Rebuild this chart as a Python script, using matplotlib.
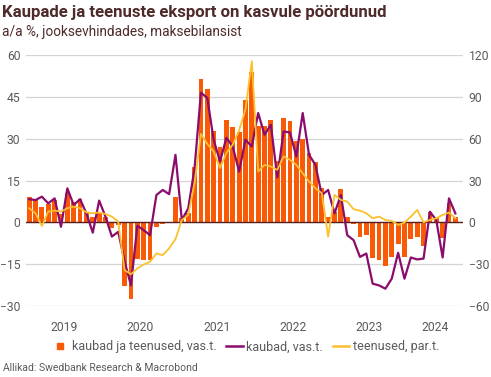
import matplotlib
matplotlib.use("Agg")
import matplotlib.pyplot as plt
from matplotlib.lines import Line2D
import numpy as np

# monthly data, Jan 2019 .. Aug 2024
kaubad_teenused = [
    9.0, 8.0, 5.4, 6.5, 8.0, 3.0, 10.4, 7.4, 8.3, 3.8, 2.0, 3.2,        # 2019
    2.0, -1.9, -1.0, -23.0, -27.4, -13.2, -13.4, -13.4, -1.6, -0.7, -0.3, 9.2,  # 2020
    1.5, 3.2, 20.0, 51.3, 47.7, 32.7, 27.0, 36.8, 34.2, 32.4, 43.7, 54.0,  # 2021
    34.5, 34.5, 36.6, 22.0, 37.3, 36.4, 29.2, 30.0, 25.0, 21.5, 12.2, 2.0,  # 2022
    3.8, 11.9, 1.8, -0.7, -5.2, -4.5, -12.8, -13.6, -15.6, -12.4, -7.7, -12.6,  # 2023
    -6.0, -5.4, -8.4, 3.8, 1.7, -5.6, 7.0, 2.0,  # 2024
]
kaubad = [
    8.3, 8.0, 9.2, 6.8, 8.6, -1.6, 12.2, 6.2, 8.3, 3.2, -3.7, 7.8,
    2.0, -5.1, -3.4, -14.0, -22.6, -1.2, -2.8, -4.6, 9.8, 11.6, 10.1, 24.2,
    0.8, 5.0, 19.4, 46.5, 44.6, 29.6, 21.8, 30.3, 27.2, 18.2, 29.6, 27.2,
    39.2, 31.4, 35.0, 16.1, 32.6, 32.2, 23.6, 39.2, 24.2, 20.6, 9.8, 11.6,
    3.2, 9.8, -4.6, -6.4, -12.4, -11.2, -22.0, -22.6, -23.8, -20.2, -10.9, -20.2,
    -12.6, -13.3, -13.0, 3.8, 0.8, -12.6, 8.6, 3.2,
]
teenused = [
    10.1, 6.5, -2.6, 7.7, 8.4, 7.7, 10.1, 11.3, 10.1, 7.2, 6.5, 7.0,
    6.0, 4.1, 0.5, -34.3, -37.2, -33.1, -30.2, -28.3, -22.3, -23.5, -18.7, -12.0,
    1.7, 5.3, 28.1, 63.4, 56.2, 50.9, 38.9, 49.7, 55.7, 65.8, 80.9, 115.5,
    36.4, 41.2, 40.0, 37.6, 47.2, 44.8, 41.2, 35.2, 29.2, 24.4, 20.9, -10.3,
    19.7, 16.1, 14.9, 9.4, 8.4, 6.5, 2.9, 4.1, 1.7, 1.0, -1.9, -0.2,
    4.1, 8.9, 0.0, 1.7, 2.9, 5.3, 7.0, 2.9,
]
years = ["2019", "2020", "2021", "2022", "2023", "2024"]
left_ticks = [-30, -15, 0, 15, 30, 45, 60]
right_ticks = [-60, -30, 0, 30, 60, 90, 120]

ORANGE = "#f85a06"
PURPLE = "#8a0c6c"
YELLOW = "#fbc02d"
BROWN = "#4e2a2a"
GREY = "#5a5a5a"

plt.rcParams['font.family'] = ['Roboto', 'DejaVu Sans']

x = np.arange(len(kaubad_teenused))
xmin, xmax = -0.5, 68.2

fig = plt.figure(figsize=(4.91, 3.77), dpi=100)
ax = fig.add_axes([26 / 491, 1 - 306 / 377, (463 - 26) / 491, (306 - 55) / 377])
ax2 = ax.twinx()

ax.bar(x, kaubad_teenused, width=0.76, color=ORANGE, zorder=2)
ax.plot(x, kaubad, color=PURPLE, lw=1.6, zorder=3)
ax2.plot(x, teenused, color=YELLOW, lw=1.3, zorder=4)

ax.set_xlim(xmin, xmax)
ax.set_ylim(-30, 60)
ax2.set_ylim(-60, 120)
ax.set_yticks(left_ticks)
ax2.set_yticks(right_ticks)
ax.grid(axis="y", color="#d4d4d4", lw=0.9, zorder=0)
ax.axhline(0, color="#5a1e1e", lw=1.0, zorder=2.5)

# year labels centred in the visible part of each year
pos = []
for i in range(len(years)):
    a = max(i * 12 - 0.5, xmin)
    b = min(i * 12 + 11.5, xmax)
    pos.append((a + b) / 2)
ax.set_xticks(pos)
ax.set_xticklabels(years)

for a in (ax, ax2):
    for s in a.spines.values():
        s.set_visible(False)
    a.tick_params(length=0, labelsize=8.7, colors=GREY)
ax.tick_params(axis="x", pad=11)
ax.tick_params(axis="y", pad=4)
ax2.tick_params(axis="y", pad=4)

fig.text(0.004, 0.968, "Kaupade ja teenuste eksport on kasvule pöördunud",
         fontsize=12.1, fontweight="bold", color=BROWN, va="center", ha="left")
fig.text(0.004, 0.915, "a/a %, jooksevhindades, maksebilansist",
         fontsize=9.8, color=BROWN, va="center", ha="left")
fig.text(0.006, 0.025, "Allikad: Swedbank Research & Macrobond",
         fontsize=7.5, color=GREY, va="center", ha="left")

handles = [
    Line2D([], [], color=ORANGE, marker="s", ls="none", markersize=5),
    Line2D([], [], color=PURPLE, lw=1.8),
    Line2D([], [], color=YELLOW, lw=1.8),
]
labels = ["kaubad ja teenused, vas.t.", "kaubad, vas.t.", "teenused, par.t."]
fig.legend(handles, labels, loc="center", bbox_to_anchor=(0.5, 0.08), ncol=3,
           frameon=False, fontsize=9, handlelength=1.3, handletextpad=0.3,
           columnspacing=0.8, labelcolor=GREY)

fig.savefig("out.png", dpi=100)
